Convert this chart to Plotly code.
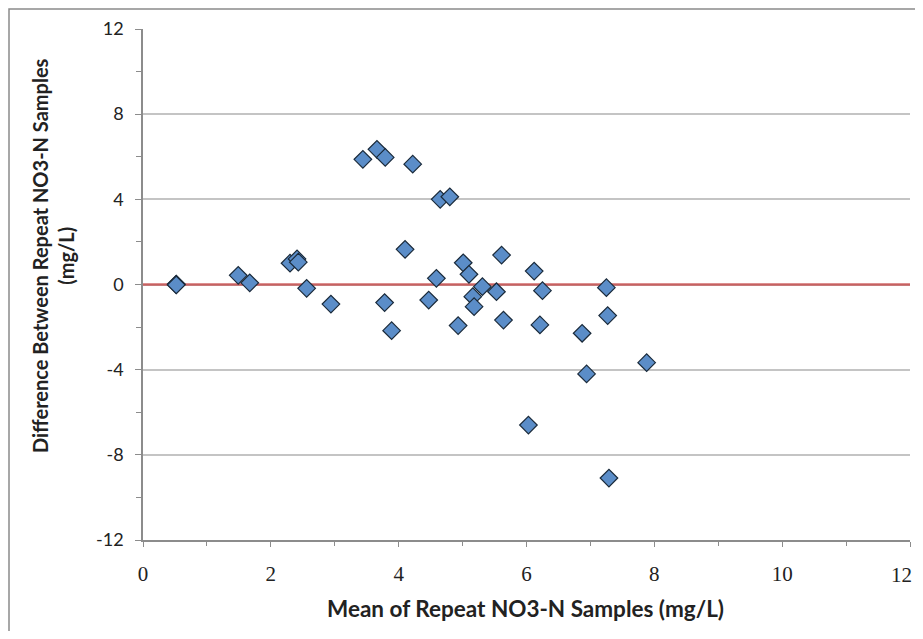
import plotly.graph_objects as go

# Data
mean_vals = [0.52, 0.52, 0.52, 1.49, 1.67, 2.30, 2.41, 2.43, 2.56, 2.94,
             3.44, 3.66, 3.79, 3.78, 3.89, 4.10, 4.22, 4.65, 4.80, 4.59,
             4.47, 4.93, 5.01, 5.10, 5.31, 5.16, 5.18, 5.53, 5.61, 5.64,
             6.12, 6.25, 6.21, 6.87, 7.25, 7.27, 7.88, 6.03, 6.94, 7.29]
diff_vals = [0.0, 0.02, -0.02, 0.43, 0.08, 1.0, 1.2, 1.05, -0.18, -0.92,
             5.88, 6.35, 5.97, -0.85, -2.17, 1.65, 5.65, 4.0, 4.12, 0.29,
             -0.73, -1.93, 1.02, 0.48, -0.10, -0.57, -1.04, -0.34, 1.38, -1.67,
             0.63, -0.29, -1.90, -2.29, -0.15, -1.46, -3.67, -6.60, -4.20, -9.09]

ref_x = [0, 12]
ref_y = [0, 0]

x_ticks = [0, 2, 4, 6, 8, 10, 12]
y_ticks = [-12, -8, -4, 0, 4, 8, 12]

x_title = "<b>Mean of Repeat NO3-N Samples (mg/L)</b>"
y_title = "<b>Difference Between Repeat NO3-N Samples<br>(mg/L)</b>"

fig = go.Figure()
fig.add_trace(go.Scatter(x=ref_x, y=ref_y, mode="lines",
                         line=dict(color="rgba(200,80,80,0.85)", width=2.5),
                         hoverinfo="skip", showlegend=False))
fig.add_trace(go.Scatter(x=mean_vals, y=diff_vals, mode="markers",
                         marker=dict(symbol="diamond", size=13.5, color="#5b8dc8",
                                     line=dict(color="#1a2a3a", width=1.2)),
                         showlegend=False))

# page has an 8px body margin, so the figure is drawn at offset (8, 8)
W, H = 915, 623
ml, mr, mt, mb = 135, 13, 21, 91
pw, ph = W - ml - mr, H - mt - mb

tick_font_x = dict(family="Liberation Serif", size=21, color="#222")
# last x tick label is drawn as an annotation nudged left so it stays inside the window
x_ticktext = [str(v) for v in x_ticks[:-1]] + [""]

fig.update_layout(
    width=W, height=H,
    margin=dict(l=ml, r=mr, t=mt, b=mb, autoexpand=False),
    paper_bgcolor="white", plot_bgcolor="white",
    showlegend=False,
    xaxis=dict(range=[0, 12], tickvals=x_ticks, ticktext=x_ticktext,
               showgrid=False, zeroline=False, showline=True,
               linecolor="#8c8c8c", linewidth=1.5,
               ticks="outside", ticklen=5, tickcolor="#8c8c8c", tickwidth=1.2,
               ticklabelstandoff=9,
               minor=dict(dtick=1, ticks="outside", ticklen=4, tickcolor="#8c8c8c", showgrid=False),
               tickfont=tick_font_x),
    yaxis=dict(range=[-12, 12], tickvals=y_ticks, ticktext=[str(v) for v in y_ticks],
               showgrid=True, gridcolor="#c4c4c4", gridwidth=1.5,
               zeroline=False, showline=True,
               linecolor="#8c8c8c", linewidth=1.5,
               ticks="outside", ticklen=6, tickcolor="#8c8c8c", tickwidth=1.2,
               ticklabelstandoff=8,
               minor=dict(dtick=2, ticks="outside", ticklen=5, tickcolor="#8c8c8c", showgrid=False),
               tickfont=dict(family="Lato", size=18, color="#222")),
    annotations=[
        dict(text=str(x_ticks[-1]), xref="x", yref="paper", x=x_ticks[-1],
             y=(540 - 575) / ph, xanchor="right", yanchor="middle", xshift=4,
             showarrow=False, font=tick_font_x),
        dict(text=x_title, xref="paper", yref="paper",
             x=(525 - 143) / pw, y=(540 - 608) / ph, xanchor="center", yanchor="middle",
             showarrow=False, font=dict(family="Lato", size=22.5, color="#222")),
        dict(text=y_title, xref="paper", yref="paper", textangle=-90,
             x=(53 - 143) / pw, y=(540 - 256) / ph, xanchor="center", yanchor="middle",
             showarrow=False, font=dict(family="Lato", size=20, color="#222")),
    ],
    shapes=[dict(type="rect", xref="paper", yref="paper",
                 x0=(1 - ml) / pw, x1=(W + 20 - ml) / pw,
                 y0=-(mb + 20) / ph, y1=1 + (mt - 1) / ph,
                 line=dict(color="#8a8a8a", width=1.5), fillcolor="rgba(0,0,0,0)", layer="below")],
)

fig.write_html("out.html")
